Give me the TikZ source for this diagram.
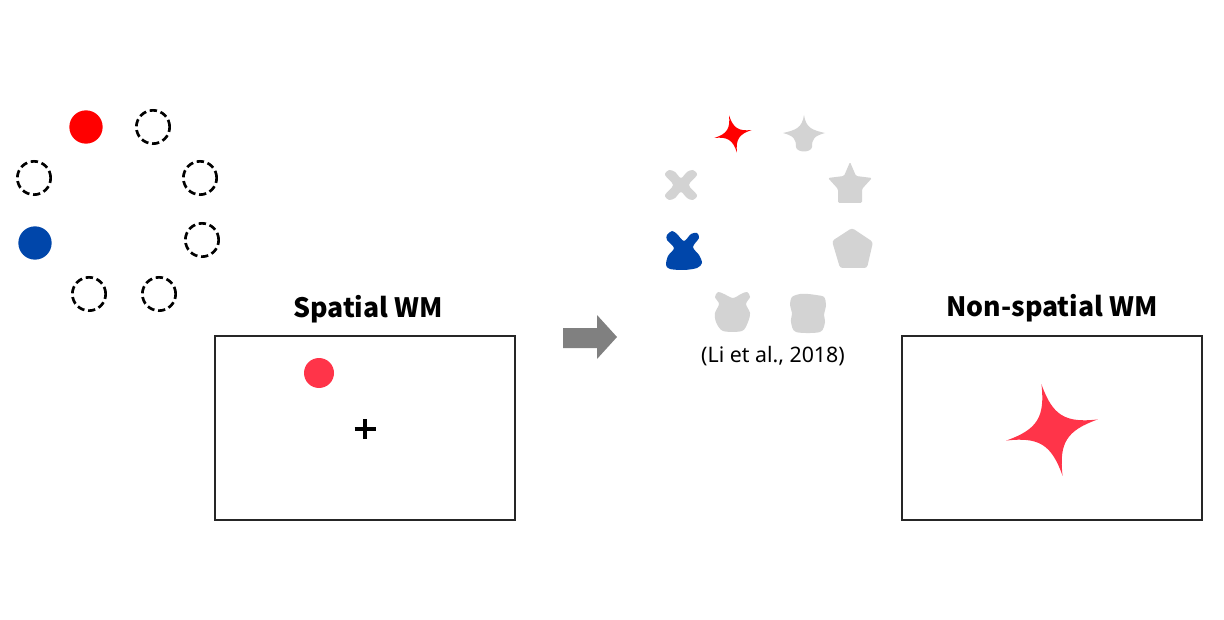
\documentclass[tikz,border=0pt]{standalone}
\usepackage{fontspec}
\setmainfont{Noto Sans}
\newfontfamily\titlefont{Noto Sans CJK KR}
\usetikzlibrary{positioning,calc}
\definecolor{cuered}{HTML}{FF0000}
\definecolor{cueblue}{HTML}{0046AA}
\definecolor{probered}{HTML}{FF3449}
\definecolor{shapegray}{HTML}{D3D3D3}
\definecolor{arrowgray}{HTML}{808080}
\newcommand{\fourstar}[4]{
  \fill[#4,shift={#1},rotate=#2,scale=#3] (-1,0) .. controls (-0.3,-0.08) and (-0.08,-0.3) .. (0,-1)
    .. controls (0.08,-0.3) and (0.3,-0.08) .. (1,0) .. controls (0.3,0.08) and (0.08,0.3) .. (0,1)
    .. controls (-0.08,0.3) and (-0.3,0.08) .. (-1,0) -- cycle;
}
\tikzset{
  slot/.style={circle,draw,line width=2pt,dash pattern=on 5.5pt off 2.8pt,minimum size=25pt,inner sep=0pt},
  dot/.style={circle,fill=#1,minimum size=25pt,inner sep=0pt},
  screen/.style={draw=black!85,line width=1.5pt,minimum width=225pt,minimum height=138pt,inner sep=0pt},
  title/.style={font=\titlefont\bfseries\fontsize{20}{24}\selectfont,anchor=base},
  grayshape/.style={fill=shapegray},
  fixcross/.style={line width=3pt}
}

\begin{document}
\begin{tikzpicture}[x=0.75pt,y=-0.75pt]
  \useasboundingbox (0,0) rectangle (1224,620);
  % spatial memory array
  \node[dot=cuered] (red) at (86,127) {};
  \node[dot=cueblue] (blue) at (35,243) {};
  \foreach \p [count=\i] in {(153,127),(200,178),(202,240),(159,294),(89,294),(34,178)}
    \node[slot] (slot\i) at \p {};
  % spatial probe
  \node[screen] (sbox) at (365,427.5) {};
  \node[title] (stitle) at ($(sbox.north)+(3,-17)$) {Spatial WM};
  \node[dot=probered,minimum size=22.5pt] (probe) at (319,373) {};
  \coordinate (fix) at (365,429);
  \draw[fixcross] (fix) +(-10.5,0) -- +(10.5,0) (fix) +(0,-10) -- +(0,10);
  % arrow
  \fill[arrowgray] (563,328) -- (597,328) -- (597,315) -- (617,337) -- (597,359) -- (597,348) -- (563,348) -- cycle;
  % non-spatial memory array
  \fourstar{(733,134)}{12}{19}{cuered}
  \fill[grayshape,shift={(804,133)}] (0,-18) .. controls (2,-5) and (8,-3) .. (21,0) .. controls (10,3) and (8,6) .. (8,14)
    .. controls (7,20) and (-7,20) .. (-8,14) .. controls (-8,6) and (-10,3) .. (-21,0) .. controls (-8,-3) and (-2,-5) .. (0,-18) -- cycle;
  \fill[grayshape,shift={(681,185)}] plot[smooth cycle] coordinates {(-16,-10) (-12,-15) (-6,-13) (0,-7) (6,-13) (12,-15) (16,-10) (8,0)
    (16,10) (12,15) (6,13) (0,7) (-6,13) (-12,15) (-16,10) (-8,0)};
  \fill[grayshape,rounded corners=1pt] (850,162) -- (856,176) -- (872,178) -- (862,189) -- (862,203) -- (838,203) -- (838,189) -- (828,178) -- (844,176) -- cycle;
  \fill[grayshape,rounded corners=2pt] (852,228) -- (873,242) -- (867,268) -- (840,268) -- (832,241) -- cycle;
  \fill[cueblue] plot[smooth cycle] coordinates {(667,235) (672,231) (677,234) (684,241) (691,234) (697,233) (699,238) (693,247)
    (699,255) (702,263) (697,268) (684,270) (670,269) (666,265) (668,256) (674,248) (667,240)};
  \fill[grayshape] plot[smooth cycle] coordinates {(718,292) (724,294) (733,298) (741,294) (747,292) (750,297) (746,304) (750,313)
    (748,322) (742,331) (723,331) (716,322) (715,313) (719,304) (715,297)};
  \fill[grayshape] plot[smooth cycle] coordinates {(792,297) (800,294) (808,294) (816,295) (824,297) (826,305) (824,315) (825,322)
    (820,332) (796,332) (791,322) (792,313) (790,305)};
  \node[font=\fontsize{16}{19}\selectfont] (cite) at (773,356) {(Li et al., 2018)};
  % non-spatial probe
  \node[screen] (nbox) at (1052,428) {};
  \node[title] (ntitle) at ($(nbox.north)+(0,-19)$) {Non-spatial WM};
  \fourstar{(1052,430)}{13}{47}{probered}
\end{tikzpicture}
\end{document}
